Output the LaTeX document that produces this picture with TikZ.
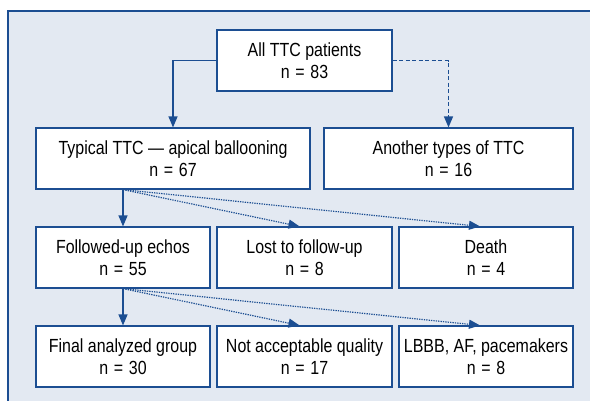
\documentclass[tikz,border=0pt]{standalone}
\usepackage{fontspec}
\setmainfont[FakeStretch=0.84]{Liberation Sans}
\usetikzlibrary{positioning}
\usetikzlibrary{calc}
\usetikzlibrary{arrows.meta}
\definecolor{frame blue}{RGB}{28,78,146}
\definecolor{panel grey}{RGB}{227,233,242}
\colorlet{line colour}{frame blue}
\colorlet{background colour}{panel grey}
% Count line under each box title
\newcommand{\cnt}[1]{n\hspace{0.3em}=\hspace{0.3em}#1}
\tikzset{
    % A filled triangle, as in the flow chart
    >={Triangle[length=11pt,width=9pt]},
%
    % Boxes and panel
    panel/.style={draw=line colour, line width=1.2pt, fill=background colour},
    stage/.style={draw=line colour, line width=1.2pt, fill=white,
        minimum height=61pt, inner sep=0pt, font=\fontsize{19}{22}\selectfont},
    % Next some lines
    flow/.style={draw=line colour, line width=1.3pt, ->},
    drop/.style={flow, dashed, dash pattern=on 4pt off 2.5pt},
    loss/.style={flow, line width=1.2pt, dash pattern=on 1.3pt off 1.1pt},
%
    % We almost always want centre aligned node text
    every node/.style={align=center},
}

\begin{document}
\begin{tikzpicture}[x=1pt, y=-1pt]
\clip (0,0) rectangle (590,400);
\useasboundingbox (0,0) rectangle (590,400);

\draw [panel] (8,11) rectangle (620,430);

\path
    (304.5,60.5) node (all) [stage, minimum width=175pt]
        {All TTC patients\\\cnt{83}}
    (173,158.5) node (typical) [stage, minimum width=274pt]
        {Typical TTC --- apical ballooning\\\cnt{67}}
    (448.5,158.5) node (other) [stage, minimum width=249pt]
        {Another types of TTC\\\cnt{16}};

\path
    (123,257.5) node (followed) [stage, minimum width=174pt]
        {Followed-up echos\\\cnt{55}}
    (304.5,257.5) node (lost) [stage, minimum width=175pt]
        {Lost to follow-up\\\cnt{8}}
    (486,257.5) node (death) [stage, minimum width=174pt]
        {Death\\\cnt{4}};

\path
    (123,356.5) node (final) [stage, minimum width=174pt]
        {Final analyzed group\\\cnt{30}}
    (304.5,356.5) node (poor) [stage, minimum width=175pt]
        {Not acceptable quality\\\cnt{17}}
    (486,356.5) node (lbbb) [stage, minimum width=174pt]
        {LBBB, AF, pacemakers\\\cnt{8}};

\draw [flow] (all.west) -| (typical.north);
\draw [drop] (all.east) -| (other.north);

\draw [flow] (typical.south -| followed) -- (followed.north);
\draw [loss] (typical.south -| followed) -- ([xshift=-5pt]lost.north);
\draw [loss] (typical.south -| followed) -- ([xshift=-6pt]death.north);

\draw [flow] (followed.south) -- (final.north);
\draw [loss] (followed.south) -- ([xshift=-5pt]poor.north);
\draw [loss] (followed.south) -- ([xshift=-6pt]lbbb.north);

\end{tikzpicture}
\end{document}
